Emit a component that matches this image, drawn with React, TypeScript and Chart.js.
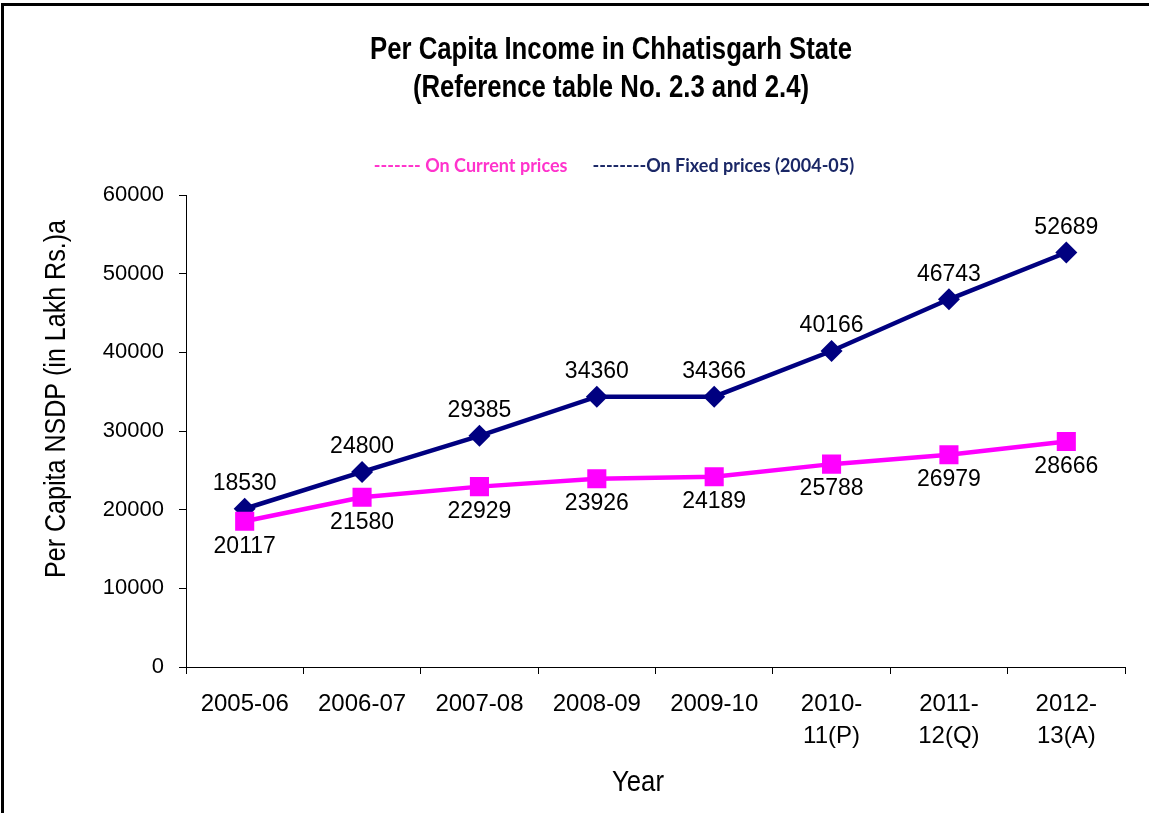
import React, { useEffect, useRef } from "react";
import { Chart, registerables } from "chart.js";

Chart.register(...registerables);

// ---- Data ----
const yearLabels: string[][] = [
  ["2005-06"],
  ["2006-07"],
  ["2007-08"],
  ["2008-09"],
  ["2009-10"],
  ["2010-", "11(P)"],
  ["2011-", "12(Q)"],
  ["2012-", "13(A)"],
];
const currentPrices = [18530, 21580, 22929, 23926, 24189, 25788, 26979, 28666];
const fixedPrices = [20117, 24800, 29385, 34360, 34366, 40166, 46743, 52689];
// data labels as printed in the source chart
const currentLabels = [20117, 21580, 22929, 23926, 24189, 25788, 26979, 28666];
const fixedLabels = [18530, 24800, 29385, 34360, 34366, 40166, 46743, 52689];

const titleLines = ["Per Capita Income in Chhatisgarh State", "(Reference table No. 2.3 and 2.4)"];
const legendCurrent = "------- On Current prices";
const legendFixed = "--------On Fixed prices (2004-05)";
const yTitle = "Per Capita NSDP (in Lakh Rs.)a";
const xTitle = "Year";
const yMin = 0;
const yMax = 60000;
const yStep = 10000;

const SANS = '"Liberation Sans", Arial, sans-serif';
const LEGEND_FONT = 'Lato, Carlito, Calibri, "Open Sans", sans-serif';

const MAGENTA = "#ff00ff";
const NAVY = "#000080";

// draw text horizontally condensed (emulates Arial Narrow)
function drawNarrow(ctx: CanvasRenderingContext2D, text: string, x: number, y: number, sx: number) {
  ctx.save();
  ctx.translate(x, y);
  ctx.scale(sx, 1);
  ctx.fillText(text, 0, 0);
  ctx.restore();
}

export default function App() {
  const ref = useRef<HTMLCanvasElement | null>(null);

  useEffect(() => {
    const canvas = ref.current;
    if (!canvas) return;

    const framePlugin = {
      id: "frame",
      beforeDraw(chart: any) {
        const ctx = chart.ctx;
        ctx.save();
        ctx.fillStyle = "#ffffff";
        ctx.fillRect(0, 0, chart.width, chart.height);
        ctx.fillStyle = "#000000";
        ctx.fillRect(1, 3, chart.width - 1, 3);
        ctx.fillRect(1, 3, 3, chart.height - 3);
        ctx.restore();
      },
    };

    const labelsPlugin = {
      id: "pointLabels",
      afterDatasetsDraw(chart: any) {
        const ctx = chart.ctx;
        ctx.save();
        ctx.font = `23px ${SANS}`;
        ctx.fillStyle = "#000000";
        ctx.textAlign = "center";
        ctx.textBaseline = "middle";
        chart.data.datasets.forEach((ds: any, di: number) => {
          const meta = chart.getDatasetMeta(di);
          const texts: number[] = ds.labelTexts;
          const above = ds.labelAbove;
          meta.data.forEach((pt: any, i: number) => {
            const y = above ? pt.y - 25 : pt.y + 25;
            ctx.fillText(String(texts[i]), pt.x, y);
          });
        });
        ctx.restore();
      },
    };

    const textPlugin = {
      id: "texts",
      afterDraw(chart: any) {
        const ctx = chart.ctx as CanvasRenderingContext2D;
        ctx.save();
        // title
        ctx.fillStyle = "#000000";
        ctx.textAlign = "center";
        ctx.textBaseline = "middle";
        ctx.font = `bold 32px ${SANS}`;
        const tw = ctx.measureText(titleLines[0]).width;
        const tsx = 482 / tw;
        drawNarrow(ctx, titleLines[0], 611, 50, tsx);
        drawNarrow(ctx, titleLines[1], 611, 88, tsx);

        // legend
        ctx.font = `bold 18px ${LEGEND_FONT}`;
        ctx.textAlign = "left";
        const w1 = ctx.measureText(legendCurrent).width;
        const w2 = ctx.measureText(legendFixed).width;
        const gap = 25;
        const start = 614 - (w1 + gap + w2) / 2;
        ctx.fillStyle = "#ff33cc";
        ctx.fillText(legendCurrent, start, 166);
        ctx.fillStyle = "#1a2766";
        ctx.fillText(legendFixed, start + w1 + gap, 166);

        // axis titles
        ctx.fillStyle = "#000000";
        ctx.textAlign = "center";
        ctx.font = `29px ${SANS}`;
        const xw = ctx.measureText(xTitle).width;
        drawNarrow(ctx, xTitle, 638, 783, 52 / xw);
        const yw = ctx.measureText(yTitle).width;
        ctx.save();
        ctx.translate(57, 399);
        ctx.rotate(-Math.PI / 2);
        drawNarrow(ctx, yTitle, 0, 0, 358 / yw);
        ctx.restore();
        ctx.restore();
      },
    };

    const chart = new Chart(canvas, {
      type: "line",
      data: {
        labels: yearLabels,
        datasets: [
          {
            label: legendCurrent,
            data: currentPrices,
            borderColor: MAGENTA,
            backgroundColor: MAGENTA,
            borderWidth: 4.5,
            pointStyle: "rect",
            pointRadius: 13.5,
            pointHoverRadius: 13.5,
            pointBorderWidth: 0,
            pointBackgroundColor: MAGENTA,
            tension: 0,
            labelTexts: currentLabels,
            labelAbove: false,
          } as any,
          {
            label: legendFixed,
            data: fixedPrices,
            borderColor: NAVY,
            backgroundColor: NAVY,
            borderWidth: 4.5,
            pointStyle: "rectRot",
            pointRadius: 11,
            pointHoverRadius: 11,
            pointBorderWidth: 0,
            pointBackgroundColor: NAVY,
            tension: 0,
            labelTexts: fixedLabels,
            labelAbove: true,
          } as any,
        ],
      },
      options: {
        responsive: false,
        animation: false,
        devicePixelRatio: 1,
        layout: { padding: { left: 0, top: 195, right: 24, bottom: 46 } },
        plugins: {
          legend: { display: false },
          title: { display: false },
          tooltip: { enabled: false },
        },
        scales: {
          x: {
            type: "category",
            offset: true,
            afterFit(scale: any) {
              scale.height = 100;
            },
            grid: {
              offset: true,
              drawOnChartArea: false,
              drawTicks: true,
              tickLength: 7,
              color: "#000000",
              lineWidth: 1,
            },
            border: { display: true, color: "#000000", width: 1 },
            ticks: {
              autoSkip: false,
              maxRotation: 0,
              minRotation: 0,
              padding: 14,
              color: "#000000",
              font: { family: SANS, size: 24, lineHeight: 1.35 },
            },
          },
          y: {
            min: yMin,
            max: yMax,
            afterFit(scale: any) {
              scale.width = 186;
            },
            grid: {
              drawOnChartArea: false,
              drawTicks: true,
              tickLength: 7,
              color: "#000000",
              lineWidth: 1,
            },
            border: { display: true, color: "#000000", width: 1 },
            ticks: {
              stepSize: yStep,
              padding: 15,
              color: "#000000",
              font: { family: SANS, size: 22 },
              callback: (v: any) => String(v),
            },
          },
        },
      },
      plugins: [framePlugin, labelsPlugin, textPlugin],
    } as any);

    return () => chart.destroy();
  }, []);

  return (
    <div style={{ position: "absolute", left: 0, top: 0, width: 1149, height: 813, background: "#fff" }}>
      <canvas ref={ref} width={1149} height={813} style={{ width: 1149, height: 813, display: "block" }} />
    </div>
  );
}
